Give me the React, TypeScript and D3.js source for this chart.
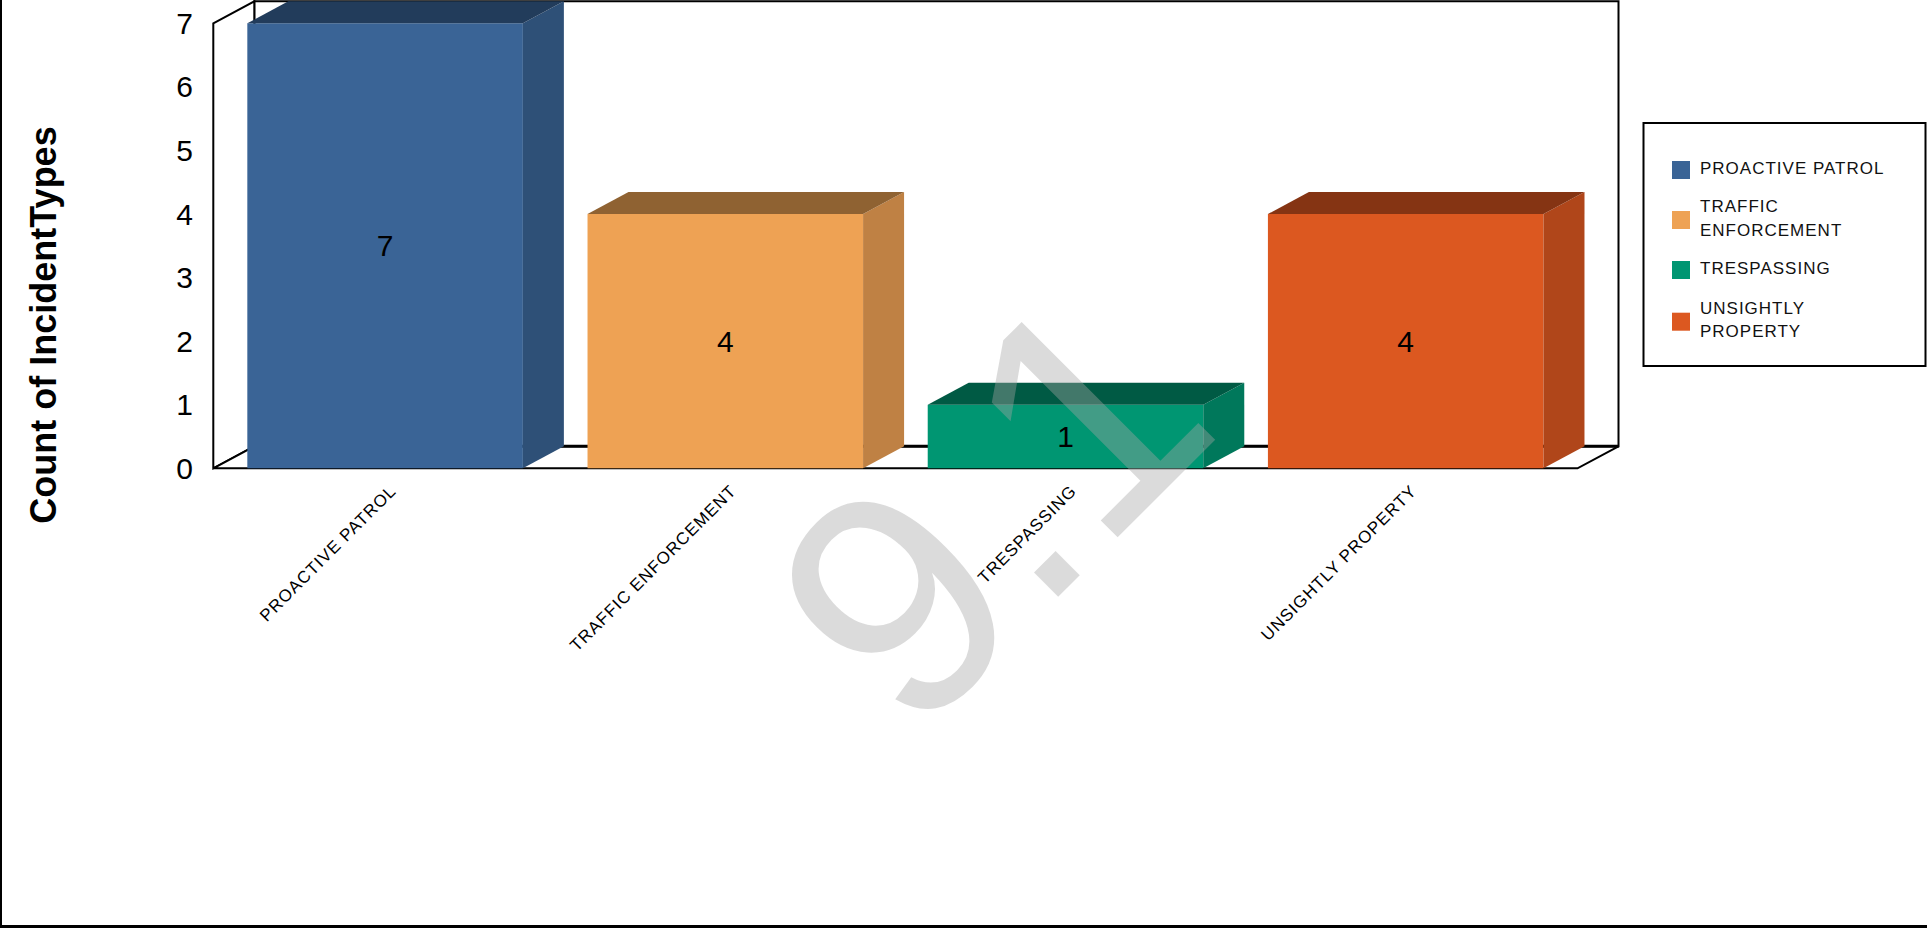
import React from "react";
import * as d3 from "d3";

const categories = ["PROACTIVE PATROL", "TRAFFIC ENFORCEMENT", "TRESPASSING", "UNSIGHTLY PROPERTY"];
const values = [7, 4, 1, 4];
const yTicks = [0, 1, 2, 3, 4, 5, 6, 7];
const legendLines = [["PROACTIVE PATROL"], ["TRAFFIC", "ENFORCEMENT"], ["TRESPASSING"], ["UNSIGHTLY", "PROPERTY"]];
const frontColors = ["#3A6496", "#EEA254", "#009672", "#DC5820"];
const sideColors = ["#2E5077", "#BF8144", "#00785B", "#B0461A"];
const topColors = ["#223C5B", "#8F6232", "#005A44", "#853413"];
const yTitle = "Count of IncidentTypes";
const watermark = "9.1";

const W = 1927;
const H = 928;
const FONT = "'Liberation Sans', Arial, sans-serif";

export default function App() {
  const x0 = 213.3;
  const x1 = 1577.5;
  const dx = 41;
  const dy = -22;
  const x = d3.scaleBand<string>().domain(categories).range([x0, x1]).paddingInner(0.19).paddingOuter(0.1);
  const y = d3.scaleLinear().domain([0, 7]).range([468.3, 23.3]);
  const yb = y(0);
  const yt = y(7);
  const pts = (p: number[][]) => p.map((q) => q.join(",")).join(" ");

  return (
    <svg width={W} height={H} style={{ position: "absolute", left: 0, top: 0, background: "#fff" }}>
      <rect x={0} y={0} width={W} height={H} fill="#fff" />
      {/* back wall */}
      <polygon points={pts([[x0 + dx, yt + dy], [x1 + dx, yt + dy], [x1 + dx, yb + dy], [x0 + dx, yb + dy]])} fill="#fff" stroke="#000" strokeWidth={2} />
      {/* side wall */}
      <polygon points={pts([[x0, yt], [x0 + dx, yt + dy], [x0 + dx, yb + dy], [x0, yb]])} fill="#fff" stroke="#000" strokeWidth={2} />
      {/* floor */}
      <polygon points={pts([[x0, yb], [x0 + dx, yb + dy], [x1 + dx, yb + dy], [x1, yb]])} fill="#fff" stroke="#000" strokeWidth={2} />
      <line x1={x0 + dx} x2={x1 + dx} y1={yb + dy} y2={yb + dy} stroke="#000" strokeWidth={3} />
      {/* bars */}
      {categories.map((c, i) => {
        const bx = x(c) as number;
        const bw = x.bandwidth();
        const top = y(values[i]);
        return (
          <g key={c}>
            <polygon points={pts([[bx, top], [bx + bw, top], [bx + bw, yb], [bx, yb]])} fill={frontColors[i]} />
            <polygon points={pts([[bx + bw, top], [bx + bw + dx, top + dy], [bx + bw + dx, yb + dy], [bx + bw, yb]])} fill={sideColors[i]} />
            <polygon points={pts([[bx, top], [bx + dx, top + dy], [bx + bw + dx, top + dy], [bx + bw, top]])} fill={topColors[i]} />
            <text x={bx + bw / 2} y={(top + yb) / 2} dy="0.35em" textAnchor="middle" fontFamily={FONT} fontSize={30} fill="#000">
              {values[i]}
            </text>
          </g>
        );
      })}
      {/* y ticks */}
      {yTicks.map((t) => (
        <text key={t} x={193} y={y(t)} dy="0.35em" textAnchor="end" fontFamily={FONT} fontSize={30} fill="#000">
          {t}
        </text>
      ))}
      {/* x labels */}
      {categories.map((c) => {
        const cx = (x(c) as number) + x.bandwidth() / 2;
        return (
          <text key={c} transform={`translate(${cx + 12},${492}) rotate(-45)`} textAnchor="end" fontFamily={FONT} fontSize={17} letterSpacing={1} fill="#000">
            {c}
          </text>
        );
      })}
      {/* y title */}
      <text transform="translate(56,325) rotate(-90)" textAnchor="middle" fontFamily={FONT} fontSize={36} fontWeight="bold" fill="#000">
        {yTitle}
      </text>
      {/* legend */}
      <rect x={1643.5} y={123} width={282} height={243} fill="#fff" stroke="#000" strokeWidth={2} />
      {legendLines.map((lines, i) => {
        const cy = [170, 220, 270, 321.7][i];
        return (
          <g key={i}>
            <rect x={1672} y={cy - 9} width={18} height={18} fill={frontColors[i]} />
            {lines.map((ln, j) => (
              <text key={j} x={1700} y={cy - 2 + (j - (lines.length - 1) / 2) * 23.3} dy="0.35em" fontFamily={FONT} fontSize={17} letterSpacing={1} fill="#111">
                {ln}
              </text>
            ))}
          </g>
        );
      })}
      {/* frame */}
      <line x1={1} x2={1} y1={0} y2={H} stroke="#000" strokeWidth={2} />
      <line x1={0} x2={W} y1={926.5} y2={926.5} stroke="#000" strokeWidth={3} />
      {/* watermark */}
      <text transform="translate(911.7,743.3) rotate(-45)" fontFamily={FONT} fontSize={320} fill="#a6a6a6" fillOpacity={0.4}>
        {watermark}
      </text>
    </svg>
  );
}
